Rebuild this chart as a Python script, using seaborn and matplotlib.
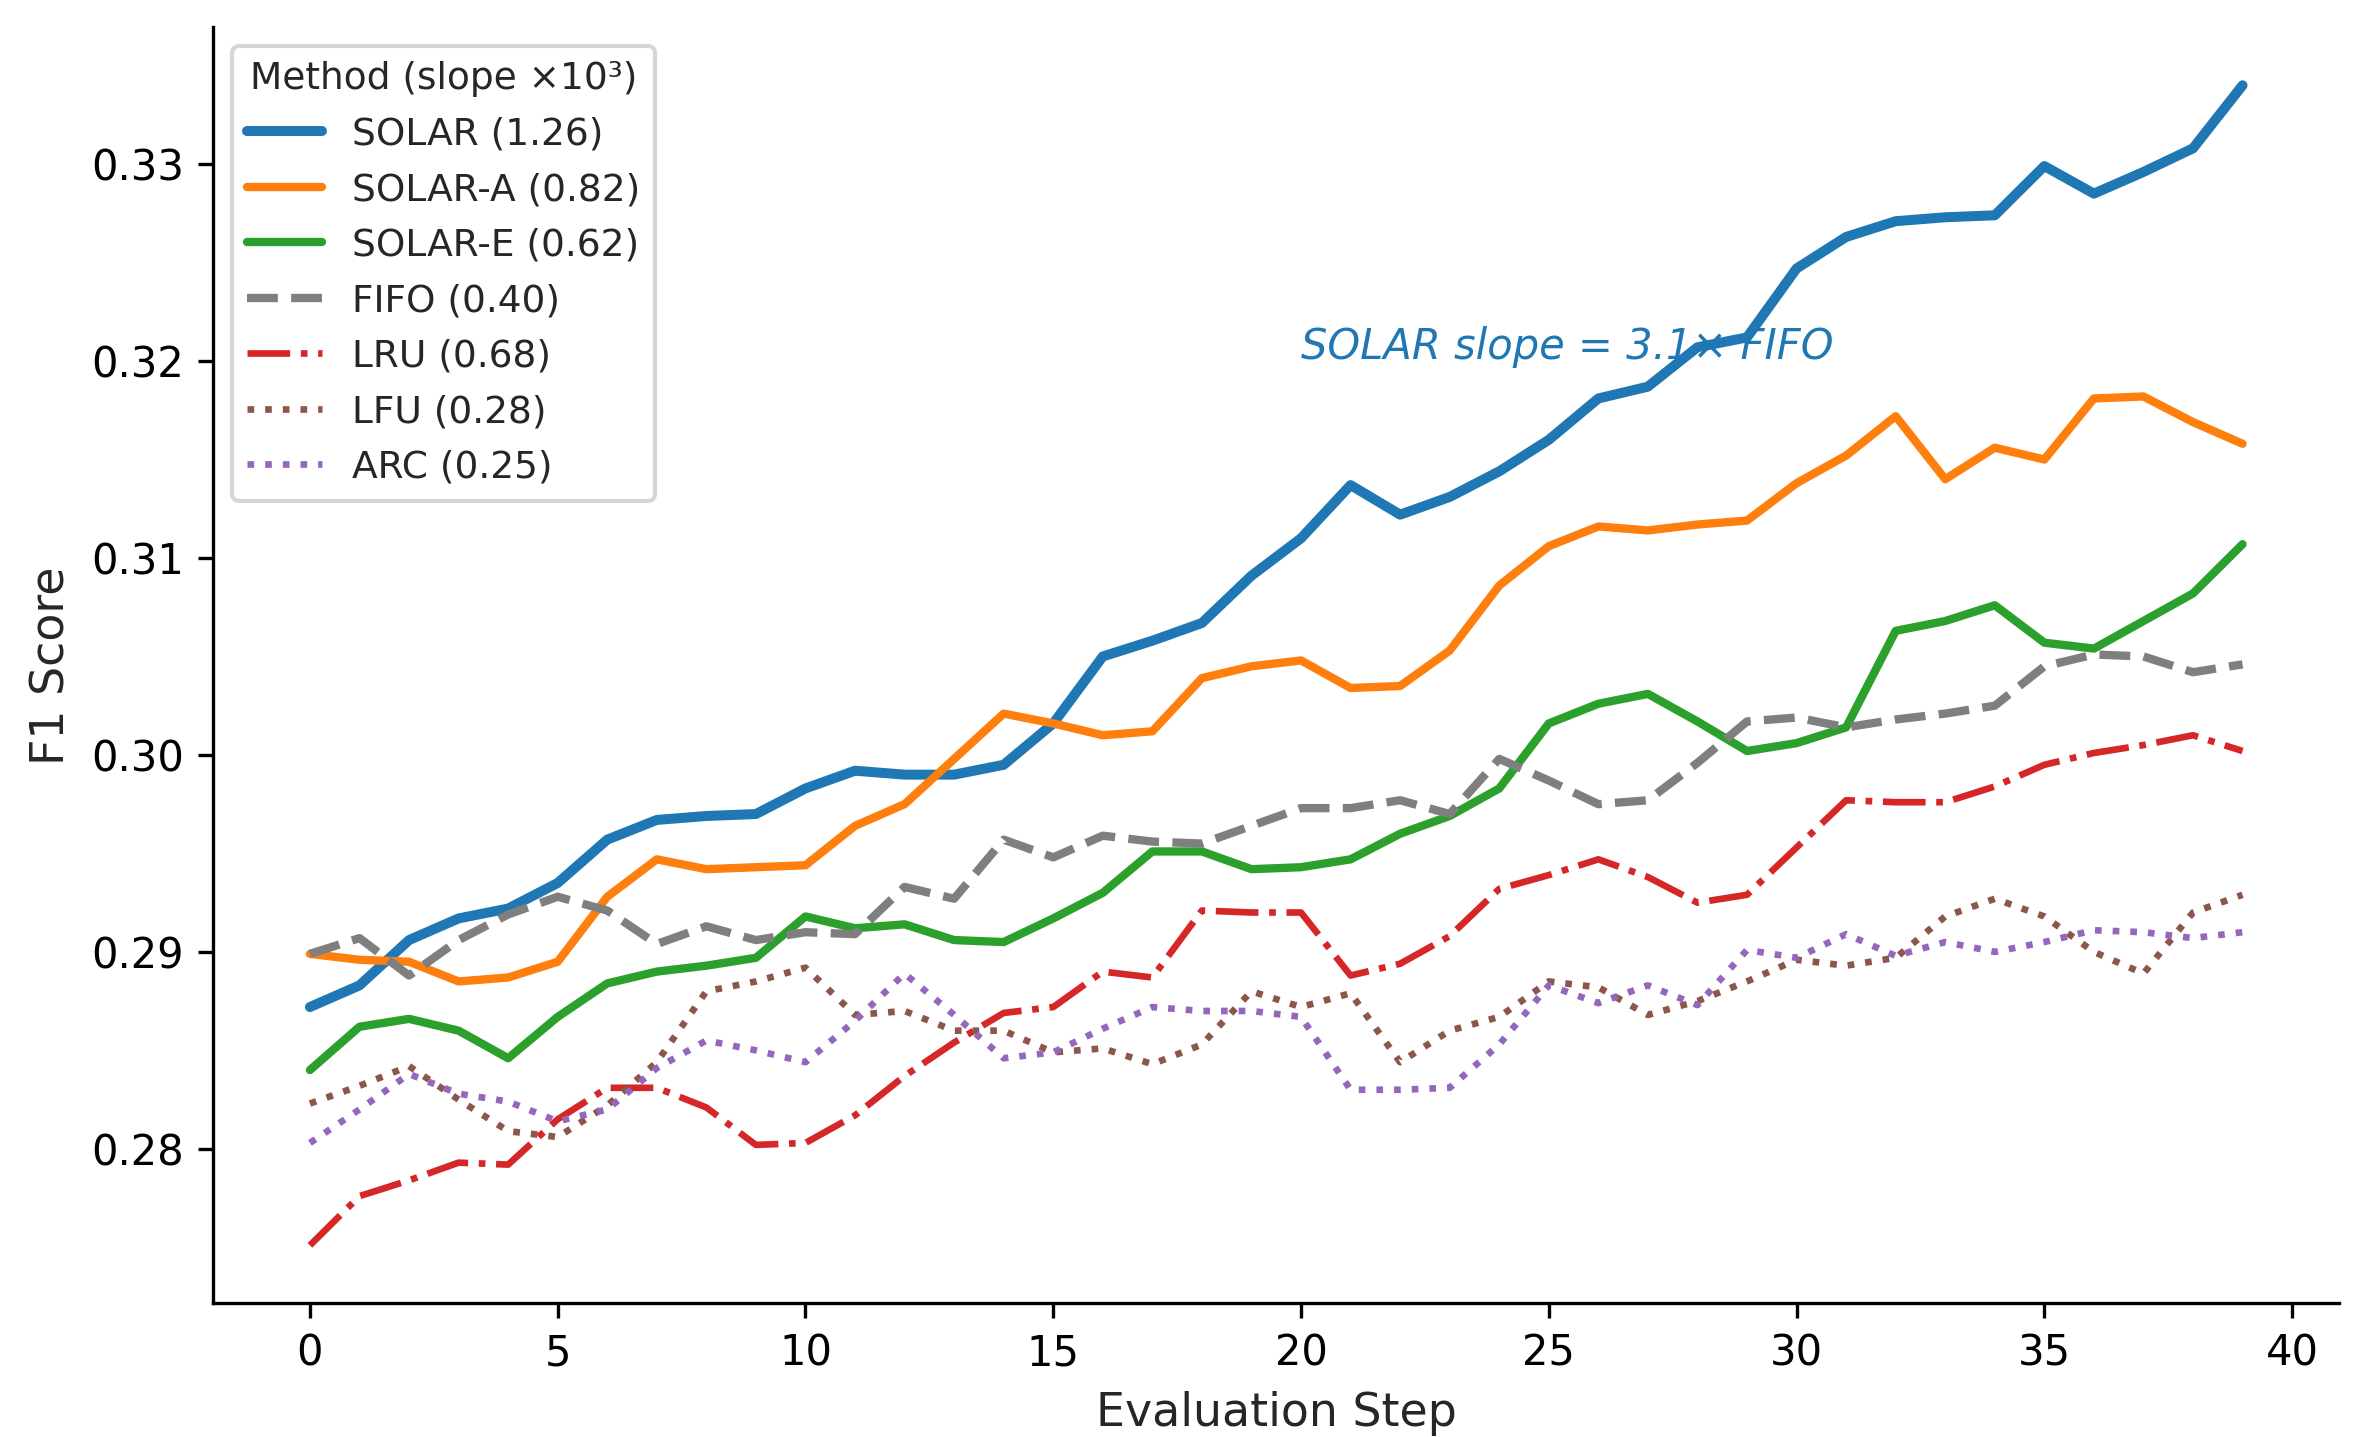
import matplotlib
matplotlib.use("Agg")
import numpy as np
import pandas as pd
import matplotlib.pyplot as plt
import seaborn as sns

# evaluation steps 0..39
steps = list(range(40))

solar = [0.2872, 0.2883, 0.2906, 0.2917, 0.2922, 0.2935, 0.2957, 0.2967, 0.2969, 0.2970,
         0.2983, 0.2992, 0.2990, 0.2990, 0.2995, 0.3016, 0.3050, 0.3058, 0.3067, 0.3091,
         0.3110, 0.3137, 0.3122, 0.3131, 0.3144, 0.3160, 0.3181, 0.3187, 0.3207, 0.3212,
         0.3247, 0.3263, 0.3271, 0.3273, 0.3274, 0.3299, 0.3285, 0.3296, 0.3308, 0.3340]
solar_a = [0.2899, 0.2896, 0.2895, 0.2885, 0.2887, 0.2895, 0.2928, 0.2947, 0.2942, 0.2943,
           0.2944, 0.2964, 0.2975, 0.2998, 0.3021, 0.3016, 0.3010, 0.3012, 0.3039, 0.3045,
           0.3048, 0.3034, 0.3035, 0.3053, 0.3086, 0.3106, 0.3116, 0.3114, 0.3117, 0.3119,
           0.3138, 0.3152, 0.3172, 0.3140, 0.3156, 0.3150, 0.3181, 0.3182, 0.3169, 0.3158]
solar_e = [0.2840, 0.2862, 0.2866, 0.2860, 0.2846, 0.2867, 0.2884, 0.2890, 0.2893, 0.2897,
           0.2918, 0.2912, 0.2914, 0.2906, 0.2905, 0.2917, 0.2930, 0.2951, 0.2951, 0.2942,
           0.2943, 0.2947, 0.2960, 0.2969, 0.2983, 0.3016, 0.3026, 0.3031, 0.3017, 0.3002,
           0.3006, 0.3014, 0.3063, 0.3068, 0.3076, 0.3057, 0.3054, 0.3068, 0.3082, 0.3107]
fifo = [0.2899, 0.2907, 0.2888, 0.2906, 0.2919, 0.2928, 0.2921, 0.2904, 0.2913, 0.2906,
        0.2910, 0.2909, 0.2933, 0.2927, 0.2957, 0.2948, 0.2959, 0.2956, 0.2955, 0.2964,
        0.2973, 0.2973, 0.2977, 0.2970, 0.2998, 0.2987, 0.2975, 0.2977, 0.2996, 0.3017,
        0.3019, 0.3014, 0.3018, 0.3021, 0.3025, 0.3045, 0.3051, 0.3050, 0.3042, 0.3046]
lru = [0.2751, 0.2776, 0.2784, 0.2793, 0.2792, 0.2815, 0.2831, 0.2831, 0.2821, 0.2802,
       0.2803, 0.2817, 0.2837, 0.2854, 0.2869, 0.2872, 0.2890, 0.2887, 0.2921, 0.2920,
       0.2920, 0.2888, 0.2894, 0.2908, 0.2932, 0.2939, 0.2947, 0.2938, 0.2925, 0.2929,
       0.2953, 0.2977, 0.2976, 0.2976, 0.2984, 0.2995, 0.3001, 0.3005, 0.3010, 0.3002]
lfu = [0.2823, 0.2832, 0.2842, 0.2825, 0.2809, 0.2806, 0.2822, 0.2844, 0.2880, 0.2885,
       0.2892, 0.2868, 0.2870, 0.2860, 0.2860, 0.2849, 0.2851, 0.2843, 0.2853, 0.2880,
       0.2872, 0.2879, 0.2844, 0.2860, 0.2867, 0.2885, 0.2882, 0.2868, 0.2875, 0.2885,
       0.2896, 0.2893, 0.2897, 0.2918, 0.2927, 0.2918, 0.2900, 0.2889, 0.2920, 0.2929]
arc = [0.2803, 0.2820, 0.2838, 0.2828, 0.2824, 0.2814, 0.2820, 0.2841, 0.2855, 0.2850,
       0.2844, 0.2865, 0.2889, 0.2868, 0.2846, 0.2849, 0.2861, 0.2872, 0.2870, 0.2870,
       0.2867, 0.2830, 0.2830, 0.2831, 0.2853, 0.2883, 0.2874, 0.2883, 0.2873, 0.2901,
       0.2897, 0.2909, 0.2898, 0.2905, 0.2900, 0.2905, 0.2911, 0.2910, 0.2907, 0.2910]

methods = ["SOLAR", "SOLAR-A", "SOLAR-E", "FIFO", "LRU", "LFU", "ARC"]
slopes = ["1.26", "0.82", "0.62", "0.40", "0.68", "0.28", "0.25"]
series = [solar, solar_a, solar_e, fifo, lru, lfu, arc]

colors = ["#1f77b4", "#ff7f0e", "#2ca02c", "#7f7f7f", "#d62728", "#8c564b", "#9467bd"]
widths = [2.4, 2.0, 2.0, 2.0, 1.6, 1.6, 1.6]
styles = ["-", "-", "-", "--", "-.", ":", ":"]

sns.set_theme(style="ticks", rc={
    "axes.linewidth": 0.8,
    "xtick.major.size": 3.5, "ytick.major.size": 3.5,
    "xtick.major.width": 0.8, "ytick.major.width": 0.8,
    "axes.edgecolor": "black",
    "xtick.color": "black", "ytick.color": "black",
})
plt.rcParams["font.family"] = ["DejaVu Sans"]

fig, ax = plt.subplots(figsize=(7.9, 4.79), dpi=300)
fig.subplots_adjust(left=0.09, right=0.987, top=0.981, bottom=0.093)

for name, slope, vals, c, lw, ls in zip(methods, slopes, series, colors, widths, styles):
    df = pd.DataFrame({"step": steps, "f1": vals})
    sns.lineplot(data=df, x="step", y="f1", ax=ax, color=c, lw=lw, linestyle=ls,
                 label=f"{name} ({slope})")

ax.text(20, 0.3207, "SOLAR slope = 3.1× FIFO", color="#1f77b4", fontsize=10,
        style="italic", ha="left", va="center", zorder=1)

ax.set_xlabel("Evaluation Step", fontsize=11)
ax.set_ylabel("F1 Score", fontsize=11)
ax.tick_params(labelsize=10)
ax.set_xticks([0, 5, 10, 15, 20, 25, 30, 35, 40])
ax.set_yticks([0.28, 0.29, 0.30, 0.31, 0.32, 0.33])
ax.set_yticklabels(["0.28", "0.29", "0.30", "0.31", "0.32", "0.33"])

ax.legend(title="Method (slope ×10³)", loc="upper left", fontsize=9, title_fontsize=9,
          labelspacing=0.52, frameon=True, fancybox=True, framealpha=0.8, edgecolor="0.8")
sns.despine(ax=ax)

fig.savefig("out.png", dpi=300)
